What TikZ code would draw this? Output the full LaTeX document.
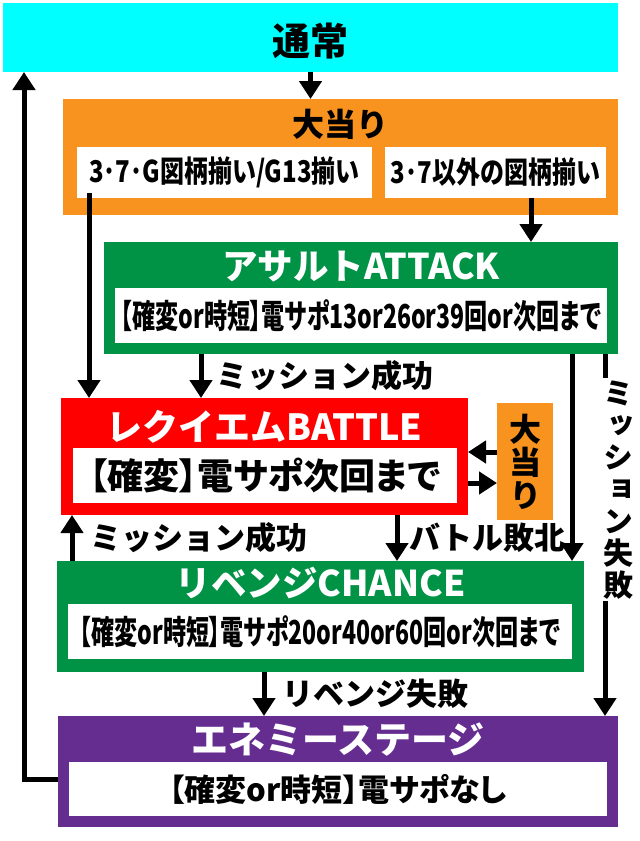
\documentclass[tikz,border=0pt]{standalone}
\usepackage{fontspec}
\usepackage{xcolor}
\usepackage{tikz}
\usetikzlibrary{calc,arrows.meta}
\setmainfont{Noto Sans CJK JP}[UprightFont=* Black]
\newfontfamily\narrowfont{Noto Sans CJK JP}[UprightFont=* Black, FakeStretch=0.7, RawFeature=+palt]
\newfontfamily\midfont{Noto Sans CJK JP}[UprightFont=* Black, FakeStretch=0.8]
\newfontfamily\paltfont{Noto Sans CJK JP}[UprightFont=* Black, RawFeature=+palt]
\newfontfamily\vertfont{Noto Sans CJK JP}[UprightFont=* Black, RawFeature=+vert]
\definecolor{sky}{HTML}{00FFFF}
\definecolor{orange}{HTML}{F7931E}
\definecolor{green}{HTML}{009245}
\definecolor{red}{HTML}{FF0000}
\definecolor{purple}{HTML}{662D91}
\tikzset{
  box/.style={anchor=north west, inner sep=0pt, outer sep=0pt},
  inbox/.style={box, fill=white},
  ttl/.style={text=white, inner sep=0pt, font=\fontsize{35.5bp}{37bp}\selectfont},
  body/.style={font=\narrowfont\fontsize{33bp}{35bp}\selectfont},
  lbl/.style={anchor=west, inner sep=0pt, font=\fontsize{31bp}{33bp}\selectfont},
  vlbl/.style={fill=white, inner sep=2bp, align=center, font=\vertfont\fontsize{30bp}{32bp}\selectfont},
  arr/.style={draw=black, line width=5bp, -{Triangle[width=22bp,length=18bp]}}
}
\begin{document}
\begin{tikzpicture}[x=1bp,y=-1bp]
  \useasboundingbox[fill=white] (0,0) rectangle (640,841);

  \node[box, fill=sky, minimum width=615bp, minimum height=69bp] (tsujo) at (3,3) {};
  \node[ttl, text=black, font=\fontsize{38bp}{40bp}\selectfont] at ([yshift=-38bp]tsujo.north) {通常};

  \node[box, fill=orange, minimum width=555bp, minimum height=116bp] (ooatari) at (63,99) {};
  \node[ttl, text=black, font=\fontsize{32bp}{34bp}\selectfont] at ([yshift=-25bp]ooatari.north) {大当り};
  \node[inbox, font=\midfont\fontsize{30bp}{32bp}\selectfont, minimum width=295bp, minimum height=51bp] (hitA) at (77,147) {3･7･G図柄揃い/G13揃い};
  \node[inbox, font=\midfont\fontsize{30bp}{32bp}\selectfont, minimum width=221bp, minimum height=51bp] (hitB) at (385,147) {3･7以外の図柄揃い};

  \node[box, fill=green, minimum width=514bp, minimum height=112bp] (assault) at (104,242) {};
  \node[ttl] at ([yshift=-24bp]assault.north) {アサルトATTACK};
  \node[inbox, body, minimum width=492bp, minimum height=55bp] (assaultin) at (115,288) {【確変or時短】電サポ13or26or39回or次回まで};

  \node[box, fill=red, minimum width=407bp, minimum height=117bp] (requiem) at (61,398) {};
  \node[ttl, font=\fontsize{36bp}{38bp}\selectfont] at ([yshift=-29bp]requiem.north) {レクイエムBATTLE};
  \node[inbox, font=\paltfont\fontsize{36bp}{38bp}\selectfont, minimum width=384bp, minimum height=55bp] (requiemin) at (73,448) {【確変】電サポ次回まで};

  \node[box, fill=orange, minimum width=56bp, minimum height=117bp] (ooatari2) at (497,403) {};
  \node[align=center, inner sep=0pt, font=\vertfont\fontsize{32bp}{33bp}\selectfont] at (ooatari2.center) {大\\当\\り};

  \node[box, fill=green, minimum width=527bp, minimum height=111bp] (revenge) at (57,561) {};
  \node[ttl] at ([yshift=-22bp]revenge.north) {リベンジCHANCE};
  \node[inbox, body, minimum width=504bp, minimum height=55bp] (revengein) at (68,604) {【確変or時短】電サポ20or40or60回or次回まで};

  \node[box, fill=purple, minimum width=560bp, minimum height=111bp] (enemy) at (58,716) {};
  \node[ttl, font=\fontsize{37bp}{39bp}\selectfont] at ([yshift=-24bp]enemy.north) {エネミーステージ};
  \node[inbox, font=\paltfont\fontsize{31bp}{33bp}\selectfont, minimum width=538bp, minimum height=54bp] (enemyin) at (69,762) {【確変or時短】電サポなし};

  \coordinate (p1) at ([xshift=12bp,yshift=5bp]hitA.south west);
  \coordinate (p2) at ([xshift=146bp]hitB.south west);
  \coordinate (p3) at ([xshift=97bp]assault.south west);
  \coordinate (p4) at ([xshift=-46bp]assault.south east);
  \coordinate (p5) at ([xshift=-13bp]assault.south east);
  \coordinate (p6) at ([xshift=15bp]revenge.north west);
  \coordinate (p7) at ([xshift=-71bp]requiem.south east);
  \coordinate (p8) at ([xshift=207bp]revenge.south west);
  \coordinate (p9) at ([yshift=-63bp]enemy.north west);
  \coordinate (p10) at ([xshift=21bp]tsujo.south west);
  \coordinate (p11) at ([yshift=-49bp]ooatari2.north west);
  \coordinate (p12) at ([yshift=-80bp]ooatari2.north west);

  \draw[arr] (tsujo.south) -- (tsujo.south |- ooatari.north);
  \draw[arr] (p1) -- (p1 |- requiem.north);
  \draw[arr] (p2) -- (p2 |- assault.north);
  \draw[arr] (p3) -- (p3 |- requiem.north) node[lbl, midway, xshift=13bp] {ミッション成功};
  \draw[arr] (p4) -- (p4 |- revenge.north);
  \draw[arr] (p5) -- (p5 |- enemy.north) node[vlbl, pos=0.375, xshift=13bp] {ミ\\ッ\\シ\\ョ\\ン\\失\\敗};
  \draw[arr] (p11) -- (p11 -| requiem.east);
  \draw[arr] (p12 -| requiem.east) -- (p12);
  \draw[arr] (p6) -- (p6 |- requiem.south) node[lbl, midway, xshift=16bp] {ミッション成功};
  \draw[arr] (p7) -- (p7 |- revenge.north) node[lbl, midway, xshift=10bp] {バトル敗北};
  \draw[arr] (p8) -- (p8 |- enemy.north) node[lbl, midway, xshift=16bp] {リベンジ失敗};
  \draw[arr] (p9) -| (p10);
\end{tikzpicture}
\end{document}
